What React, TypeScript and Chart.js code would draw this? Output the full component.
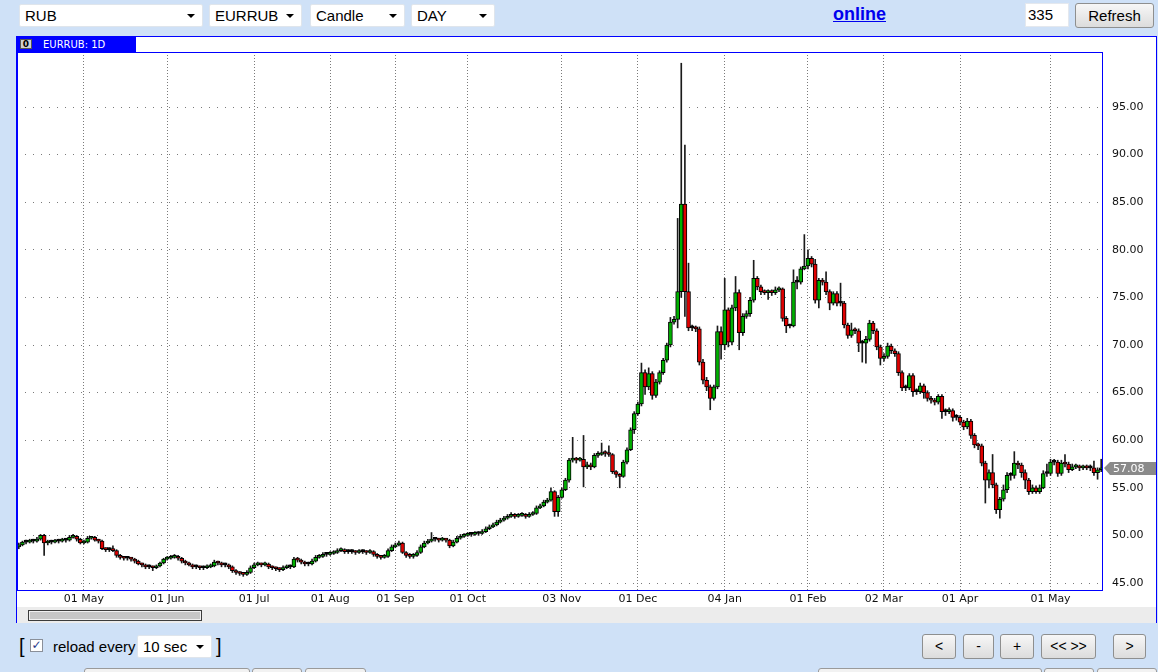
import React, { useEffect, useRef } from "react";
import { Chart, registerables } from "chart.js";

Chart.register(...registerables);

// ---- data (EURRUB daily candles) ----
const FIRST_OPEN = 48.8;
const closes = [
  49.0, 49.3, 49.3, 49.4, 49.4, 49.6, 50.0, 49.2, 49.3, 49.3,
  49.4, 49.4, 49.5, 49.5, 49.8, 49.9, 49.6, 49.2, 49.3, 49.7,
  49.8, 49.5, 49.4, 48.6, 48.5, 48.5, 48.4, 47.9, 47.7, 47.6,
  47.6, 47.5, 47.3, 47.0, 46.9, 46.7, 46.7, 46.6, 46.8, 47.1,
  47.5, 47.6, 47.7, 47.8, 47.6, 47.3, 47.1, 46.9, 46.7, 46.7,
  46.6, 46.6, 46.7, 46.8, 47.2, 47.1, 46.9, 46.9, 46.7, 46.3,
  46.1, 46.0, 45.9, 46.1, 46.6, 46.9, 47.0, 46.9, 47.0, 46.7,
  46.6, 46.5, 46.4, 46.6, 46.7, 46.7, 47.5, 47.4, 47.2, 47.0,
  47.0, 47.3, 47.7, 47.8, 48.0, 48.0, 48.1, 48.2, 48.4, 48.5,
  48.3, 48.3, 48.3, 48.2, 48.3, 48.3, 48.2, 48.3, 48.0, 47.8,
  47.7, 47.8, 48.4, 48.8, 49.0, 49.2, 48.2, 47.9, 47.8, 47.9,
  48.2, 48.8, 49.2, 49.4, 49.6, 49.6, 49.5, 49.6, 49.5, 48.9,
  49.3, 49.7, 49.9, 50.0, 50.1, 50.1, 50.2, 50.2, 50.4, 50.7,
  50.9, 51.1, 51.4, 51.6, 51.8, 52.0, 52.1, 52.0, 52.1, 52.2,
  52.0, 52.2, 52.3, 52.9, 53.1, 53.5, 53.7, 54.6, 52.5, 54.0,
  54.8, 55.8, 57.9, 58.0, 57.9, 58.0, 57.2, 57.4, 57.2, 58.4,
  58.5, 58.7, 58.6, 58.5, 56.7, 56.4, 56.2, 57.7, 59.0, 61.1,
  62.8, 63.8, 67.1, 65.6, 67.0, 64.7, 66.1, 67.1, 68.4, 70.0,
  72.4, 72.7, 75.6, 84.8, 75.6, 71.8, 71.8, 71.7, 68.2, 66.3,
  65.6, 64.4, 65.6, 71.4, 70.0, 73.7, 70.3, 73.9, 75.5, 71.3,
  73.0, 73.3, 74.7, 77.0, 76.1, 75.6, 75.5, 75.6, 75.5, 75.8,
  75.9, 72.8, 72.0, 72.0, 76.6, 76.6, 78.0, 78.3, 79.1, 78.5,
  74.7, 76.8, 76.6, 75.6, 74.4, 75.4, 74.4, 74.4, 72.1, 71.0,
  71.6, 71.5, 70.2, 70.2, 70.6, 72.3, 71.5, 69.8, 68.6, 68.8,
  69.9, 69.4, 69.1, 67.1, 65.5, 65.5, 66.8, 65.1, 65.1, 65.7,
  65.0, 64.4, 64.2, 64.0, 64.6, 63.0, 63.0, 63.1, 62.4, 62.4,
  61.9, 61.4, 62.0, 60.5, 59.5, 59.4, 57.6, 55.8, 56.6, 55.3,
  52.7, 53.8, 54.8, 56.3, 56.3, 57.6, 57.4, 56.6, 55.8, 54.6,
  55.0, 54.6, 55.0, 56.5, 56.5, 57.7, 57.7, 56.5, 57.6, 57.5,
  56.9, 57.2, 57.3, 57.1, 57.2, 57.1, 57.1, 56.6, 56.9, 57.08,
];
const highs = [
  49.2, 49.4, 49.5, 49.6, 49.6, 49.8, 50.1, 50.1, 49.5, 49.5,
  49.6, 49.6, 49.7, 49.7, 50.0, 50.1, 50.0, 49.7, 49.5, 49.9,
  49.9, 49.9, 49.6, 49.5, 48.7, 48.7, 48.9, 48.5, 48.0, 47.8,
  47.8, 47.7, 47.6, 47.4, 47.1, 47.0, 46.9, 46.8, 46.9, 47.2,
  47.6, 47.8, 47.9, 48.0, 47.9, 47.7, 47.4, 47.2, 47.0, 46.9,
  46.8, 46.8, 46.9, 47.0, 47.4, 47.3, 47.2, 47.1, 47.0, 46.8,
  46.4, 46.2, 46.1, 46.3, 46.8, 47.1, 47.2, 47.1, 47.2, 47.1,
  46.8, 46.7, 46.6, 46.8, 46.9, 46.9, 47.7, 47.7, 47.5, 47.3,
  47.2, 47.5, 47.9, 48.0, 48.2, 48.2, 48.3, 48.4, 48.6, 48.7,
  48.6, 48.5, 48.5, 48.4, 48.5, 48.5, 48.4, 48.5, 48.4, 48.1,
  47.9, 48.0, 48.6, 49.0, 49.2, 49.4, 49.3, 48.3, 48.1, 48.1,
  48.4, 49.0, 49.4, 49.6, 50.3, 49.8, 49.7, 49.8, 49.7, 49.6,
  49.5, 49.9, 50.1, 50.2, 50.3, 50.3, 50.4, 50.4, 50.6, 50.9,
  51.1, 51.3, 51.6, 51.8, 52.0, 52.2, 52.4, 52.3, 52.3, 52.4,
  52.3, 52.4, 52.5, 53.1, 53.3, 53.7, 53.9, 55.0, 54.7, 54.2,
  55.0, 56.0, 58.1, 60.3, 58.2, 58.2, 60.5, 57.7, 57.6, 58.6,
  58.8, 59.7, 58.9, 59.4, 58.6, 56.8, 56.5, 57.9, 59.2, 61.3,
  63.0, 64.0, 68.1, 67.4, 67.6, 67.2, 66.4, 67.3, 68.6, 70.2,
  72.9, 73.0, 83.3, 99.6, 91.0, 78.6, 72.1, 72.0, 71.9, 68.5,
  66.6, 65.8, 65.8, 72.0, 71.9, 77.0, 73.9, 74.2, 77.2, 75.8,
  73.3, 73.6, 75.0, 78.9, 77.2, 76.3, 75.8, 75.8, 75.8, 76.1,
  76.1, 76.0, 73.0, 72.2, 77.9, 77.2, 78.2, 81.6, 80.0, 79.3,
  79.0, 77.0, 77.0, 77.7, 75.8, 75.6, 75.6, 76.5, 74.6, 72.3,
  72.3, 71.8, 71.7, 70.5, 70.9, 72.6, 72.5, 71.7, 70.0, 69.1,
  70.2, 70.1, 69.6, 69.3, 67.3, 65.8, 67.0, 67.0, 65.4, 66.0,
  65.9, 65.2, 64.6, 64.4, 64.8, 64.8, 63.3, 63.4, 63.3, 62.7,
  62.6, 62.1, 62.3, 62.2, 60.7, 59.7, 59.6, 57.8, 56.9, 58.5,
  55.5, 54.0, 55.3, 56.6, 56.6, 58.8, 57.8, 57.6, 56.9, 56.0,
  55.3, 55.2, 55.3, 56.8, 57.5, 58.0, 58.0, 57.9, 57.9, 58.5,
  57.7, 57.5, 57.5, 57.4, 57.4, 57.4, 57.4, 57.8, 57.1, 58.0,
];
const lows = [
  48.6, 48.9, 49.1, 49.2, 49.2, 49.3, 49.5, 47.9, 49.0, 49.1,
  49.2, 49.2, 49.3, 49.3, 49.4, 49.7, 49.4, 49.1, 49.1, 49.2,
  49.6, 49.4, 49.2, 48.5, 48.3, 48.3, 48.3, 47.7, 47.5, 47.4,
  47.4, 47.3, 47.1, 46.9, 46.7, 46.5, 46.5, 46.3, 46.5, 46.7,
  47.0, 47.4, 47.5, 47.6, 47.4, 47.1, 46.9, 46.8, 46.5, 46.5,
  46.4, 46.4, 46.5, 46.6, 46.7, 46.9, 46.7, 46.7, 46.5, 46.1,
  45.9, 45.8, 45.7, 45.8, 46.0, 46.5, 46.8, 46.7, 46.8, 46.5,
  46.4, 46.3, 46.2, 46.3, 46.5, 46.5, 46.6, 47.2, 47.0, 46.8,
  46.8, 46.9, 47.2, 47.6, 47.7, 47.8, 47.9, 48.0, 48.1, 48.3,
  48.1, 48.1, 48.1, 48.0, 48.1, 48.1, 48.0, 48.1, 47.8, 47.6,
  47.5, 47.6, 47.7, 48.3, 48.7, 48.9, 48.1, 47.7, 47.6, 47.6,
  47.8, 48.1, 48.7, 49.1, 49.3, 49.4, 49.3, 49.4, 49.3, 48.7,
  48.8, 49.2, 49.6, 49.8, 49.9, 49.9, 50.0, 50.0, 50.1, 50.3,
  50.6, 50.8, 51.0, 51.3, 51.5, 51.7, 51.9, 51.8, 51.9, 52.0,
  51.8, 51.9, 52.1, 52.2, 52.8, 53.0, 53.4, 53.6, 52.0, 52.0,
  53.9, 54.7, 55.6, 57.7, 57.6, 57.8, 55.1, 57.0, 56.9, 57.1,
  58.2, 58.4, 58.3, 58.3, 56.5, 56.1, 55.0, 56.1, 57.5, 58.9,
  60.7, 62.6, 63.6, 64.8, 65.3, 64.3, 64.5, 65.9, 66.9, 68.2,
  69.8, 72.2, 71.8, 75.0, 73.0, 71.5, 71.5, 71.4, 67.9, 65.9,
  65.2, 63.2, 64.2, 65.4, 68.5, 69.5, 69.8, 70.0, 73.6, 69.5,
  71.0, 72.8, 73.0, 74.5, 75.8, 75.3, 75.3, 74.8, 75.2, 75.3,
  75.6, 72.5, 71.3, 71.8, 71.9, 75.9, 76.4, 77.9, 78.0, 78.2,
  74.4, 73.9, 76.3, 75.3, 73.7, 74.2, 74.1, 74.1, 71.8, 70.7,
  70.8, 71.2, 69.3, 68.2, 68.1, 70.4, 71.2, 69.5, 67.9, 68.3,
  68.6, 69.1, 68.8, 66.8, 65.2, 65.2, 65.3, 64.6, 64.8, 64.9,
  64.4, 64.1, 63.9, 63.7, 63.8, 62.3, 62.6, 62.8, 62.0, 62.1,
  61.6, 61.1, 61.2, 60.2, 59.2, 59.0, 57.3, 53.4, 55.0, 55.0,
  52.3, 51.8, 53.6, 54.5, 55.8, 56.0, 57.0, 56.1, 54.9, 54.3,
  54.4, 54.4, 54.4, 54.9, 56.2, 56.3, 57.4, 56.2, 56.3, 57.2,
  56.6, 56.8, 57.0, 56.8, 56.9, 56.9, 56.8, 56.3, 55.9, 56.7,
];
const monthTickIndex = [18, 41, 65, 86, 104, 124, 150, 171, 195, 218, 239, 260, 285];
const monthTickLabels = [
  "01 May", "01 Jun", "01 Jul", "01 Aug", "01 Sep", "01 Oct", "03 Nov",
  "01 Dec", "04 Jan", "01 Feb", "02 Mar", "01 Apr", "01 May",
];
const priceTicks = [45, 50, 55, 60, 65, 70, 75, 80, 85, 90, 95];
const LAST_PRICE = 57.08;
const Y_MIN = 44.16;
const Y_MAX = 100.78;

const opens = closes.map((c, i) => (i === 0 ? FIRST_OPEN : closes[i - 1]));

const UI_FONT = '"Liberation Sans", Arial, sans-serif';
const AXIS_FONT = "DejaVu Sans";
const GREEN = "#00b000";
const RED = "#e00000";
const BLUE = "#0000ff";

function Sel(props: { left: number; top: number; width: number; height?: number; text: string }) {
  const h = props.height ?? 23;
  return (
    <div
      style={{
        position: "absolute", left: props.left, top: props.top, width: props.width, height: h,
        background: "#fff", border: "1px solid #dfe5ec", borderRadius: 2, boxSizing: "border-box",
        fontSize: 15, lineHeight: h - 2 + "px", paddingLeft: 5, color: "#000", fontFamily: UI_FONT,
      }}
    >
      {props.text}
      <div
        style={{
          position: "absolute", right: 7, top: (h - 2) / 2 - 2, width: 0, height: 0,
          borderLeft: "4px solid transparent", borderRight: "4px solid transparent", borderTop: "4px solid #000",
        }}
      />
    </div>
  );
}

function Btn(props: { left: number; top: number; width: number; height: number; text: string; size?: number }) {
  return (
    <div
      style={{
        position: "absolute", left: props.left, top: props.top, width: props.width, height: props.height,
        boxSizing: "border-box", border: "1px solid #8e8f8f", borderRadius: 3,
        background: "linear-gradient(#f7f7f7, #dcdcdc)", textAlign: "center",
        lineHeight: props.height - 2 + "px", fontSize: props.size ?? 14, fontFamily: UI_FONT, color: "#000",
      }}
    >
      {props.text}
    </div>
  );
}

function Stub(props: { left: number; width: number }) {
  return (
    <div
      style={{
        position: "absolute", left: props.left, top: 668, width: props.width, height: 10,
        boxSizing: "border-box", border: "1px solid #9a9a9a", borderRadius: 3, background: "#f2f2f2",
      }}
    />
  );
}

export default function App() {
  const ref = useRef<HTMLCanvasElement>(null);

  useEffect(() => {
    if (!ref.current) return;
    const framePlugin = {
      id: "frame",
      afterDraw(chart: any) {
        const { ctx, chartArea } = chart;
        ctx.save();
        ctx.strokeStyle = BLUE;
        ctx.lineWidth = 1;
        ctx.strokeRect(
          chartArea.left + 0.5, chartArea.top + 0.5,
          chartArea.right - chartArea.left - 1, chartArea.bottom - chartArea.top - 1
        );
        // last price marker
        const y = Math.round(chart.scales.y.getPixelForValue(LAST_PRICE));
        const x0 = chartArea.right + 1;
        ctx.fillStyle = "#8a8a8a";
        ctx.beginPath();
        ctx.moveTo(x0, y);
        ctx.lineTo(x0 + 6, y - 6);
        ctx.lineTo(chart.width, y - 6);
        ctx.lineTo(chart.width, y + 7);
        ctx.lineTo(x0 + 6, y + 7);
        ctx.closePath();
        ctx.fill();
        ctx.fillStyle = "#fff";
        ctx.font = `11px "${AXIS_FONT}"`;
        ctx.textBaseline = "middle";
        ctx.textAlign = "left";
        ctx.fillText(LAST_PRICE.toFixed(2), x0 + 9, y + 1);
        ctx.restore();
      },
    };

    const chart = new Chart(ref.current, {
      type: "bar",
      data: {
        datasets: [
          {
            label: "body",
            data: closes.map((c, i) => ({ x: i, y: [opens[i], c] })) as any,
            backgroundColor: closes.map((c, i) => (c > opens[i] ? GREEN : c < opens[i] ? RED : "#000")),
            borderColor: "#000",
            borderWidth: 1,
            borderSkipped: false,
            barThickness: 4,
            minBarLength: 2,
            grouped: false,
          } as any,
          {
            label: "wick",
            data: closes.map((_, i) => ({ x: i, y: [lows[i], highs[i]] })) as any,
            backgroundColor: "#1a1a1a",
            borderWidth: 0,
            barThickness: 1,
            grouped: false,
          } as any,
        ],
      },
      options: {
        animation: false,
        responsive: false,
        devicePixelRatio: 1,
        layout: { padding: 0 },
        plugins: { legend: { display: false }, tooltip: { enabled: false }, title: { display: false } },
        scales: {
          x: {
            type: "linear",
            min: -0.5,
            max: closes.length - 0.5,
            offset: false,
            afterBuildTicks: (s: any) => {
              s.ticks = monthTickIndex.map((v) => ({ value: v }));
            },
            afterFit: (s: any) => {
              s.height = 16;
              s.paddingLeft = 0;
              s.paddingRight = 0;
            },
            ticks: {
              autoSkip: false,
              maxRotation: 0,
              minRotation: 0,
              padding: 2,
              color: "#111",
              font: { family: AXIS_FONT, size: 11 },
              callback: (v: any) => {
                const k = monthTickIndex.indexOf(Number(v));
                return k >= 0 ? monthTickLabels[k] : "";
              },
            },
            grid: { color: "#7a7a7a", lineWidth: 1, drawTicks: false, offset: false },
            border: { display: false, dash: [1, 2] },
          } as any,
          y: {
            position: "right",
            min: Y_MIN,
            max: Y_MAX,
            afterBuildTicks: (s: any) => {
              s.ticks = priceTicks.map((v) => ({ value: v }));
            },
            afterFit: (s: any) => {
              s.width = 53;
              s.paddingTop = 0;
              s.paddingBottom = 0;
            },
            ticks: {
              padding: 9,
              color: "#111",
              font: { family: AXIS_FONT, size: 11 },
              callback: (v: any) => Number(v).toFixed(2),
            },
            grid: { color: "#7a7a7a", lineWidth: 1, drawTicks: false },
            border: { display: false, dash: [1, 7] },
          } as any,
        },
      },
      plugins: [framePlugin],
    });
    return () => chart.destroy();
  }, []);

  return (
    <div
      style={{
        position: "fixed", left: 0, top: 0, width: 1158, height: 672, background: "#cfe1f7",
        overflow: "hidden", fontFamily: UI_FONT,
      }}
    >
      {/* top controls */}
      <Sel left={19} top={4} width={184} text="RUB" />
      <Sel left={209} top={4} width={93} text="EURRUB" />
      <Sel left={310} top={4} width={95} text="Candle" />
      <Sel left={411} top={4} width={84} text="DAY" />
      <div
        style={{
          position: "absolute", left: 833, top: 4, fontSize: 18, fontWeight: "bold", color: "#0000ee",
          textDecoration: "underline", fontFamily: UI_FONT,
        }}
      >
        online
      </div>
      <div
        style={{
          position: "absolute", left: 1025, top: 3, width: 44, height: 24, background: "#fff",
          border: "1px solid #e4e8ee", boxSizing: "border-box", fontSize: 15, lineHeight: "22px", paddingLeft: 2,
        }}
      >
        335
      </div>
      <Btn left={1075} top={3} width={79} height={25} text="Refresh" size={15} />

      {/* chart frame */}
      <div
        style={{
          position: "absolute", left: 16, top: 36, width: 1141, height: 587, background: "#fff",
          borderLeft: `1px solid ${BLUE}`, borderTop: `1px solid ${BLUE}`, borderRight: `1px solid ${BLUE}`,
          boxSizing: "border-box",
        }}
      />
      <div
        style={{
          position: "absolute", left: 17, top: 37, width: 119, height: 15, background: BLUE,
        }}
      >
        <div
          style={{
            position: "absolute", left: 3, top: 2, width: 12, height: 10, background: "#d0d0d0",
            border: "1px solid #555", boxSizing: "border-box", fontSize: 9, lineHeight: "8px",
            fontWeight: "bold", textAlign: "center", fontFamily: AXIS_FONT, color: "#000",
          }}
        >
          0
        </div>
        <div
          style={{
            position: "absolute", left: 26, top: 1, fontSize: 10, lineHeight: "13px", color: "#fff",
            fontFamily: AXIS_FONT,
          }}
        >
          EURRUB: 1D
        </div>
      </div>
      <canvas
        ref={ref}
        width={1139}
        height={555}
        style={{ position: "absolute", left: 17, top: 52, width: 1139, height: 555 }}
      />
      {/* scrollbar strip */}
      <div
        style={{
          position: "absolute", left: 17, top: 607, width: 1139, height: 16, background: "#ececec",
        }}
      />
      <div
        style={{
          position: "absolute", left: 28, top: 610, width: 174, height: 11, background: "#c6c6c6",
          border: "1px solid #3c3c3c", boxSizing: "border-box", boxShadow: "inset 0 0 0 1px #f0f0f0",
        }}
      />

      {/* bottom controls */}
      <div style={{ position: "absolute", left: 19, top: 634, fontSize: 20, lineHeight: "24px" }}>[</div>
      <div
        style={{
          position: "absolute", left: 30, top: 639, width: 13, height: 13, background: "#fff",
          border: "1px solid #8a8f99", boxSizing: "border-box", fontSize: 12, lineHeight: "11px",
          textAlign: "center", color: "#2a3a8a", fontFamily: AXIS_FONT,
        }}
      >
        ✓
      </div>
      <div style={{ position: "absolute", left: 53, top: 638, fontSize: 15, lineHeight: "18px" }}>reload every</div>
      <Sel left={137} top={635} width={75} height={23} text="10 sec" />
      <div style={{ position: "absolute", left: 216, top: 634, fontSize: 20, lineHeight: "24px" }}>]</div>

      <Btn left={922} top={634} width={34} height={25} text="<" />
      <Btn left={963} top={634} width={31} height={25} text="-" />
      <Btn left={1000} top={634} width={34} height={25} text="+" />
      <Btn left={1041} top={634} width={55} height={25} text="<< >>" />
      <Btn left={1113} top={634} width={33} height={25} text=">" />

      <Stub left={84} width={166} />
      <Stub left={252} width={50} />
      <Stub left={305} width={61} />
      <Stub left={818} width={224} />
      <Stub left={1044} width={50} />
      <Stub left={1097} width={60} />
    </div>
  );
}
